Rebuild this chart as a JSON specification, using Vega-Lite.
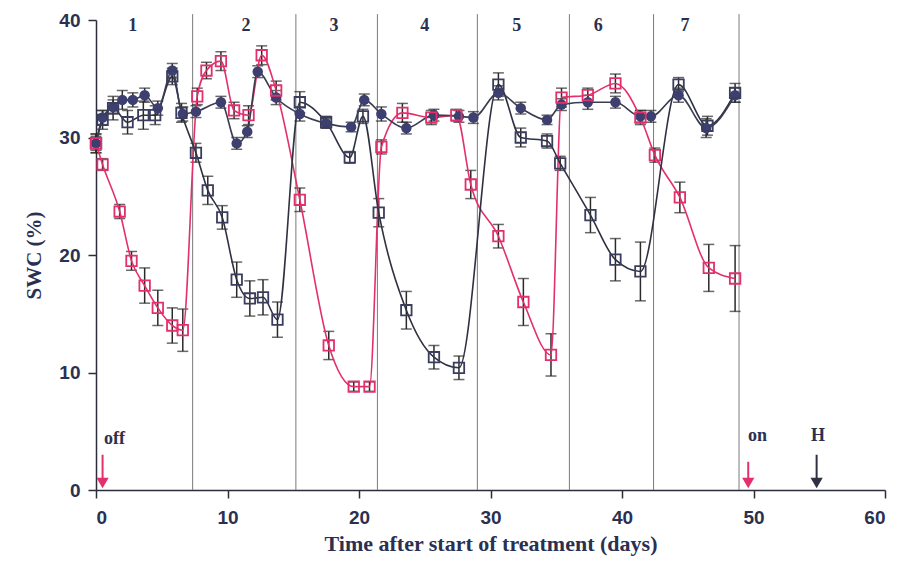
{
  "$schema": "https://vega.github.io/schema/vega-lite/v6.json",
  "width": 789,
  "height": 470,
  "autosize": {"type": "none"},
  "padding": {"left": 96, "top": 20, "right": 17, "bottom": 78},
  "background": "white",
  "config": {"view": {"stroke": null}},
  "datasets": {
    "swc": [
      {"s": "pink", "d": 0, "v": 29.5, "e": 0.8},
      {"s": "pink", "d": 0.5, "v": 27.7, "e": 0.5},
      {"s": "pink", "d": 1.8, "v": 23.7, "e": 0.6},
      {"s": "pink", "d": 2.7, "v": 19.5, "e": 0.8},
      {"s": "pink", "d": 3.7, "v": 17.4, "e": 1.5},
      {"s": "pink", "d": 4.7, "v": 15.5, "e": 1.5},
      {"s": "pink", "d": 5.8, "v": 14.0, "e": 1.5},
      {"s": "pink", "d": 6.6, "v": 13.6, "e": 1.8},
      {"s": "pink", "d": 7.7, "v": 33.5, "e": 0.7},
      {"s": "pink", "d": 8.4, "v": 35.7, "e": 0.7},
      {"s": "pink", "d": 9.5, "v": 36.5, "e": 0.8},
      {"s": "pink", "d": 10.5, "v": 32.3, "e": 0.7},
      {"s": "pink", "d": 11.6, "v": 31.9, "e": 0.8},
      {"s": "pink", "d": 12.6, "v": 37.0, "e": 0.8},
      {"s": "pink", "d": 13.7, "v": 34.0, "e": 0.8},
      {"s": "pink", "d": 15.5, "v": 24.7, "e": 1.0},
      {"s": "pink", "d": 17.7, "v": 12.3, "e": 1.2},
      {"s": "pink", "d": 19.6, "v": 8.8, "e": 0.4},
      {"s": "pink", "d": 20.8, "v": 8.8, "e": 0.4},
      {"s": "pink", "d": 21.7, "v": 29.2, "e": 0.6},
      {"s": "pink", "d": 23.3, "v": 32.1, "e": 0.8},
      {"s": "pink", "d": 25.5, "v": 31.7, "e": 0.6},
      {"s": "pink", "d": 27.4, "v": 31.9, "e": 0.5},
      {"s": "pink", "d": 28.5, "v": 26.0, "e": 1.2},
      {"s": "pink", "d": 30.6, "v": 21.6, "e": 1.0},
      {"s": "pink", "d": 32.5, "v": 16.0, "e": 2.0},
      {"s": "pink", "d": 34.6, "v": 11.5, "e": 1.8},
      {"s": "pink", "d": 35.4, "v": 33.4, "e": 0.8},
      {"s": "pink", "d": 37.4, "v": 33.6, "e": 0.6},
      {"s": "pink", "d": 39.5, "v": 34.6, "e": 0.8},
      {"s": "pink", "d": 41.4, "v": 31.7, "e": 0.6},
      {"s": "pink", "d": 42.5, "v": 28.5, "e": 0.6},
      {"s": "pink", "d": 44.4, "v": 24.9, "e": 1.3},
      {"s": "pink", "d": 46.6, "v": 18.9, "e": 2.0},
      {"s": "pink", "d": 48.6, "v": 18.0, "e": 2.8},
      {"s": "navy", "d": 0, "v": 29.5, "e": 0.8},
      {"s": "navy", "d": 0.5, "v": 31.5, "e": 0.8},
      {"s": "navy", "d": 1.3, "v": 32.5, "e": 1.0},
      {"s": "navy", "d": 2.4, "v": 31.3, "e": 1.0},
      {"s": "navy", "d": 3.6, "v": 31.9, "e": 1.2},
      {"s": "navy", "d": 4.5, "v": 31.9, "e": 0.8},
      {"s": "navy", "d": 5.8, "v": 35.2, "e": 0.7},
      {"s": "navy", "d": 6.5, "v": 32.1, "e": 0.8},
      {"s": "navy", "d": 7.6, "v": 28.7, "e": 0.8},
      {"s": "navy", "d": 8.5, "v": 25.5, "e": 1.2},
      {"s": "navy", "d": 9.6, "v": 23.2, "e": 1.0},
      {"s": "navy", "d": 10.7, "v": 17.9, "e": 1.5},
      {"s": "navy", "d": 11.7, "v": 16.3, "e": 1.5},
      {"s": "navy", "d": 12.7, "v": 16.4, "e": 1.5},
      {"s": "navy", "d": 13.8, "v": 14.5, "e": 1.5},
      {"s": "navy", "d": 15.5, "v": 33.0, "e": 0.9},
      {"s": "navy", "d": 17.5, "v": 31.3, "e": 0.5},
      {"s": "navy", "d": 19.3, "v": 28.3, "e": 0.5},
      {"s": "navy", "d": 20.3, "v": 31.8, "e": 0.6},
      {"s": "navy", "d": 21.5, "v": 23.6, "e": 1.2},
      {"s": "navy", "d": 23.6, "v": 15.3, "e": 1.6},
      {"s": "navy", "d": 25.7, "v": 11.3, "e": 1.0},
      {"s": "navy", "d": 27.6, "v": 10.4, "e": 1.0},
      {"s": "navy", "d": 30.6, "v": 34.5, "e": 1.0},
      {"s": "navy", "d": 32.3, "v": 30.0, "e": 0.8},
      {"s": "navy", "d": 34.3, "v": 29.7, "e": 0.6},
      {"s": "navy", "d": 35.3, "v": 27.8, "e": 0.6},
      {"s": "navy", "d": 37.6, "v": 23.4, "e": 1.5},
      {"s": "navy", "d": 39.5, "v": 19.6, "e": 1.8},
      {"s": "navy", "d": 41.4, "v": 18.6, "e": 2.5},
      {"s": "navy", "d": 44.3, "v": 34.5, "e": 0.6},
      {"s": "navy", "d": 46.5, "v": 31.0, "e": 0.8},
      {"s": "navy", "d": 48.6, "v": 33.8, "e": 0.8},
      {"s": "ctrl", "d": 0, "v": 29.5, "e": 0.6},
      {"s": "ctrl", "d": 0.5, "v": 31.7, "e": 0.6},
      {"s": "ctrl", "d": 1.3, "v": 32.6, "e": 0.6},
      {"s": "ctrl", "d": 2.0, "v": 33.2, "e": 0.8},
      {"s": "ctrl", "d": 2.8, "v": 33.2, "e": 0.6},
      {"s": "ctrl", "d": 3.7, "v": 33.6, "e": 0.6},
      {"s": "ctrl", "d": 4.7, "v": 32.5, "e": 0.6},
      {"s": "ctrl", "d": 5.8, "v": 35.7, "e": 0.6},
      {"s": "ctrl", "d": 6.6, "v": 32.0, "e": 0.6},
      {"s": "ctrl", "d": 7.6, "v": 32.2, "e": 0.5},
      {"s": "ctrl", "d": 9.5, "v": 33.0, "e": 0.5},
      {"s": "ctrl", "d": 10.7, "v": 29.5, "e": 0.5},
      {"s": "ctrl", "d": 11.5, "v": 30.5, "e": 0.5},
      {"s": "ctrl", "d": 12.3, "v": 35.6, "e": 0.5},
      {"s": "ctrl", "d": 13.7, "v": 33.4, "e": 0.6},
      {"s": "ctrl", "d": 15.5, "v": 32.0, "e": 0.6},
      {"s": "ctrl", "d": 17.5, "v": 31.2, "e": 0.4},
      {"s": "ctrl", "d": 19.4, "v": 30.9, "e": 0.4},
      {"s": "ctrl", "d": 20.4, "v": 33.2, "e": 0.5},
      {"s": "ctrl", "d": 21.7, "v": 32.0, "e": 0.6},
      {"s": "ctrl", "d": 23.6, "v": 30.8, "e": 0.5},
      {"s": "ctrl", "d": 25.7, "v": 31.9, "e": 0.5},
      {"s": "ctrl", "d": 27.6, "v": 31.8, "e": 0.5},
      {"s": "ctrl", "d": 28.7, "v": 31.7, "e": 0.5},
      {"s": "ctrl", "d": 30.6, "v": 33.8, "e": 0.6},
      {"s": "ctrl", "d": 32.3, "v": 32.5, "e": 0.5},
      {"s": "ctrl", "d": 34.3, "v": 31.5, "e": 0.4},
      {"s": "ctrl", "d": 35.4, "v": 32.8, "e": 0.5},
      {"s": "ctrl", "d": 37.4, "v": 33.0, "e": 0.6},
      {"s": "ctrl", "d": 39.5, "v": 33.0, "e": 0.5},
      {"s": "ctrl", "d": 41.4, "v": 31.8, "e": 0.5},
      {"s": "ctrl", "d": 42.2, "v": 31.8, "e": 0.5},
      {"s": "ctrl", "d": 44.3, "v": 33.6, "e": 0.6},
      {"s": "ctrl", "d": 46.4, "v": 30.8, "e": 0.8},
      {"s": "ctrl", "d": 48.6, "v": 33.6, "e": 0.6}
    ],
    "dividers": [
      {"d": 7.35}, {"d": 15.2}, {"d": 21.4}, {"d": 29.0}, {"d": 36.0}, {"d": 42.4}, {"d": 48.9}
    ],
    "cycles": [
      {"d": 2.8, "t": "1"}, {"d": 11.4, "t": "2"}, {"d": 18.1, "t": "3"}, {"d": 25.0, "t": "4"},
      {"d": 32.0, "t": "5"}, {"d": 38.2, "t": "6"}, {"d": 44.8, "t": "7"}
    ],
    "arrows": [
      {"d": 0.5, "top": 3.0, "tip": 0.6, "c": "pink", "t": "off", "td": 1.4, "ty": 4.3},
      {"d": 49.6, "top": 2.4, "tip": 0.6, "c": "pink", "t": "on", "td": 50.3, "ty": 4.6},
      {"d": 54.8, "top": 3.0, "tip": 0.6, "c": "navy", "t": "H", "td": 54.9, "ty": 4.6}
    ]
  },
  "layer": [
    {
      "data": {"name": "dividers"},
      "mark": {"type": "rule", "color": "#7a7a7a", "strokeWidth": 1},
      "encoding": {
        "x": {"field": "d", "type": "quantitative", "scale": {"domain": [0, 60]},
          "axis": {"values": [0, 10, 20, 30, 40, 50, 60], "grid": false, "domainColor": "#2b2d3a", "domainWidth": 1.5,
            "tickColor": "#2b2d3a", "tickWidth": 1.5, "tickSize": 8, "labelFont": "Liberation Sans Narrow, Liberation Sans",
            "labelFontWeight": "bold", "labelFontSize": 19, "labelColor": "#2b3050", "labelPadding": 10,
            "title": "Time after start of treatment (days)", "titleFont": "Liberation Serif", "titleFontWeight": "bold",
            "titleFontSize": 22, "titleColor": "#2b3050", "titlePadding": 6}},
        "y": {"datum": 0, "type": "quantitative", "scale": {"domain": [0, 40]},
          "axis": {"values": [0, 10, 20, 30, 40], "grid": false, "domainColor": "#2b2d3a", "domainWidth": 1.5,
            "tickColor": "#2b2d3a", "tickWidth": 1.5, "tickSize": 8, "labelFont": "Liberation Sans Narrow, Liberation Sans",
            "labelFontWeight": "bold", "labelFontSize": 19, "labelColor": "#2b3050", "labelPadding": 8,
            "title": "SWC (%)", "titleFont": "Liberation Serif", "titleFontWeight": "bold",
            "titleFontSize": 21, "titleColor": "#2b3050", "titlePadding": 14}},
        "y2": {"datum": 40.5}
      }
    },
    {
      "data": {"name": "swc"},
      "mark": {"type": "errorbar", "ticks": {"size": 11}, "color": "#2a2a2a", "thickness": 1.5},
      "encoding": {
        "x": {"field": "d", "type": "quantitative", "title": "Time after start of treatment (days)"},
        "y": {"field": "v", "type": "quantitative", "title": "SWC (%)"},
        "yError": {"field": "e"}
      }
    },
    {
      "data": {"name": "swc"},
      "mark": {"type": "line", "interpolate": "monotone", "strokeWidth": 1.6},
      "encoding": {
        "x": {"field": "d", "type": "quantitative", "title": "Time after start of treatment (days)"},
        "y": {"field": "v", "type": "quantitative", "title": "SWC (%)"},
        "color": {"field": "s", "type": "nominal", "legend": null,
          "scale": {"domain": ["pink", "navy", "ctrl"], "range": ["#e3306c", "#2f3142", "#3a3c50"]}},
        "order": {"field": "d", "type": "quantitative"}
      }
    },
    {
      "data": {"name": "swc"},
      "transform": [{"filter": "datum.s === 'ctrl'"}],
      "mark": {"type": "point", "shape": "circle", "filled": true, "size": 110, "color": "#3c3f70", "opacity": 1},
      "encoding": {
        "x": {"field": "d", "type": "quantitative", "title": "Time after start of treatment (days)"},
        "y": {"field": "v", "type": "quantitative", "title": "SWC (%)"}
      }
    },
    {
      "data": {"name": "swc"},
      "transform": [{"filter": "datum.s === 'navy'"}],
      "mark": {"type": "point", "shape": "square", "filled": false, "size": 110, "color": "#3a3d5e", "strokeWidth": 1.8, "opacity": 1},
      "encoding": {
        "x": {"field": "d", "type": "quantitative", "title": "Time after start of treatment (days)"},
        "y": {"field": "v", "type": "quantitative", "title": "SWC (%)"}
      }
    },
    {
      "data": {"name": "swc"},
      "transform": [{"filter": "datum.s === 'pink'"}],
      "mark": {"type": "point", "shape": "square", "filled": false, "size": 110, "color": "#e3306c", "strokeWidth": 1.8, "opacity": 1},
      "encoding": {
        "x": {"field": "d", "type": "quantitative", "title": "Time after start of treatment (days)"},
        "y": {"field": "v", "type": "quantitative", "title": "SWC (%)"}
      }
    },
    {
      "data": {"name": "cycles"},
      "mark": {"type": "text", "font": "Liberation Serif", "fontWeight": "bold", "fontSize": 18, "color": "#2b3050", "baseline": "middle"},
      "encoding": {
        "x": {"field": "d", "type": "quantitative", "title": "Time after start of treatment (days)"},
        "y": {"datum": 39.5, "type": "quantitative"},
        "text": {"field": "t"}
      }
    },
    {
      "data": {"name": "arrows"},
      "mark": {"type": "rule", "strokeWidth": 2},
      "encoding": {
        "x": {"field": "d", "type": "quantitative", "title": "Time after start of treatment (days)"},
        "y": {"field": "top", "type": "quantitative", "title": "SWC (%)"},
        "y2": {"field": "tip"},
        "color": {"field": "c", "type": "nominal", "legend": null, "scale": {"domain": ["pink", "navy"], "range": ["#e8336f", "#2e3566"]}}
      }
    },
    {
      "data": {"name": "arrows"},
      "mark": {"type": "point", "shape": "triangle-down", "filled": true, "size": 150, "opacity": 1},
      "encoding": {
        "x": {"field": "d", "type": "quantitative", "title": "Time after start of treatment (days)"},
        "y": {"field": "tip", "type": "quantitative", "title": "SWC (%)"},
        "color": {"field": "c", "type": "nominal", "legend": null, "scale": {"domain": ["pink", "navy"], "range": ["#e8336f", "#2e3566"]}}
      }
    },
    {
      "data": {"name": "arrows"},
      "mark": {"type": "text", "font": "Liberation Serif", "fontWeight": "bold", "fontSize": 18, "color": "#2b3050", "baseline": "middle"},
      "encoding": {
        "x": {"field": "td", "type": "quantitative", "title": "Time after start of treatment (days)"},
        "y": {"field": "ty", "type": "quantitative", "title": "SWC (%)"},
        "text": {"field": "t"}
      }
    }
  ]
}
